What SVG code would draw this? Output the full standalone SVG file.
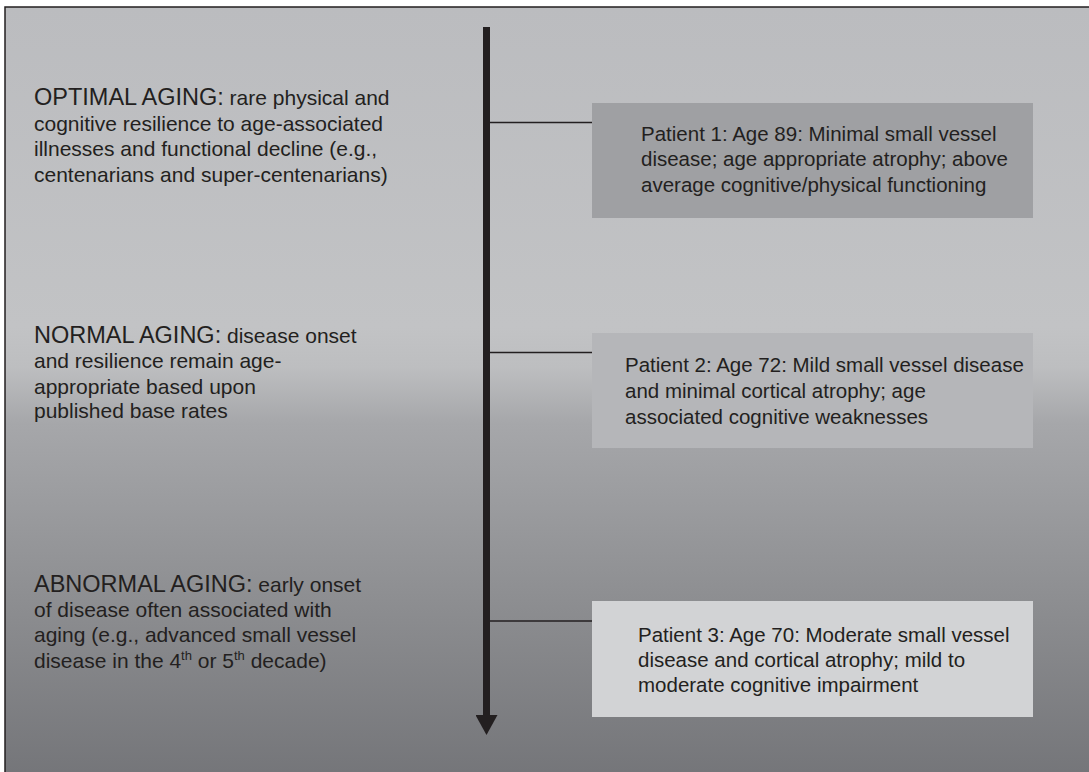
<svg xmlns="http://www.w3.org/2000/svg" width="1089" height="772" viewBox="0 0 1089 772">
<style>
.t{font-family:"Liberation Sans",Arial,sans-serif;fill:#231f20}
.h{font-size:23.5px}
.b{font-size:21px}
.p{font-size:20.5px}
.c{stroke:#231f20;stroke-width:1.5;fill:none}
</style>
<defs>
<linearGradient id="bg" x1="0" y1="0" x2="0" y2="1">
<stop offset="0" stop-color="#bbbcbf"/>
<stop offset="0.40" stop-color="#c2c3c5"/>
<stop offset="0.45" stop-color="#bdbec0"/>
<stop offset="0.52" stop-color="#a6a7aa"/>
<stop offset="0.75" stop-color="#8c8d90"/>
<stop offset="1" stop-color="#707175"/>
</linearGradient>
<marker id="ah" markerUnits="userSpaceOnUse" markerWidth="20" markerHeight="22" refX="0" refY="11" orient="auto" viewBox="0 0 20 22">
<path d="M0,0 L20,11 L0,22 Z" fill="#231f20"/>
</marker>
</defs>
<rect width="1089" height="772" fill="#ffffff"/>
<rect x="5" y="7" width="1100" height="800" fill="url(#bg)" stroke="#231f20" stroke-width="1.5"/>
<g id="connectors">
<line x1="486.5" y1="27" x2="486.5" y2="715" stroke="#231f20" stroke-width="7" marker-end="url(#ah)"/>
<line class="c" x1="490" y1="122.5" x2="592" y2="122.5"/>
<line class="c" x1="490" y1="352.5" x2="592" y2="352.5"/>
<line class="c" x1="490" y1="621" x2="592" y2="621"/>
</g>
<g id="optimal">
<text class="t b" x="34" y="105"><tspan class="h">OPTIMAL AGING:</tspan> rare physical and</text>
<text class="t b" x="34" y="130.5">cognitive resilience to age-associated</text>
<text class="t b" x="34" y="156">illnesses and functional decline (e.g.,</text>
<text class="t b" x="34" y="181.5">centenarians and super-centenarians)</text>
</g>
<g id="normal">
<text class="t b" x="34" y="343"><tspan class="h">NORMAL AGING:</tspan> disease onset</text>
<text class="t b" x="34" y="368">and resilience remain age-</text>
<text class="t b" x="34" y="393.5">appropriate based upon</text>
<text class="t b" x="34" y="418">published base rates</text>
</g>
<g id="abnormal">
<text class="t b" x="34" y="592"><tspan class="h">ABNORMAL AGING:</tspan> early onset</text>
<text class="t b" x="34" y="617">of disease often associated with</text>
<text class="t b" x="34" y="642">aging (e.g., advanced small vessel</text>
<text class="t b" x="34" y="668">disease in the 4<tspan dy="-8" font-size="13">th</tspan><tspan dy="8"> or 5</tspan><tspan dy="-8" font-size="13">th</tspan><tspan dy="8"> decade)</tspan></text>
</g>
<g id="patient1">
<rect x="592" y="103" width="441" height="115" fill="#9fa0a3"/>
<text class="t p" x="641" y="140.5">Patient 1: Age 89: Minimal small vessel</text>
<text class="t p" x="641" y="166">disease; age appropriate atrophy; above</text>
<text class="t p" x="641" y="192">average cognitive/physical functioning</text>
</g>
<g id="patient2">
<rect x="592" y="333" width="441" height="115" fill="#b5b6b9"/>
<text class="t p" x="625" y="372">Patient 2: Age 72: Mild small vessel disease</text>
<text class="t p" x="625" y="398">and minimal cortical atrophy; age</text>
<text class="t p" x="625" y="424">associated cognitive weaknesses</text>
</g>
<g id="patient3">
<rect x="592" y="601" width="441" height="116" fill="#d2d3d5"/>
<text class="t p" x="638" y="642">Patient 3: Age 70: Moderate small vessel</text>
<text class="t p" x="638" y="667">disease and cortical atrophy; mild to</text>
<text class="t p" x="638" y="692">moderate cognitive impairment</text>
</g>
</svg>
